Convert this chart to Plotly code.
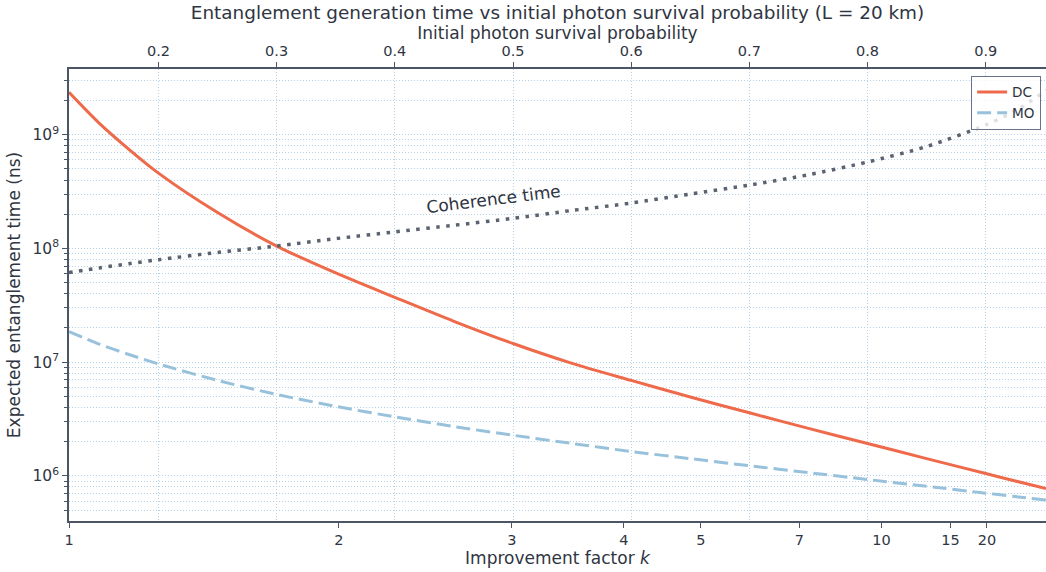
import plotly.graph_objects as go

# ---- data ----
# initial photon survival probability (top axis)
P = [0.1243, 0.15, 0.175, 0.2, 0.25, 0.3, 0.35, 0.4, 0.45, 0.5, 0.55, 0.6,
     0.65, 0.7, 0.75, 0.8, 0.85, 0.9, 0.925, 0.951]
# expected entanglement generation time (ns)
DC = [2.36e9, 1.26e9, 7.45e8, 4.60e8, 2.07e8, 1.05e8, 6.10e7, 3.72e7, 2.29e7, 1.46e7,
      9.77e6, 6.92e6, 4.95e6, 3.59e6, 2.62e6, 1.93e6, 1.42e6, 1.05e6, 9.04e5, 7.76e5]
MO = [1.86e7, 1.44e7, 1.17e7, 9.66e6, 6.92e6, 5.21e6, 4.09e6, 3.31e6, 2.72e6, 2.28e6,
      1.93e6, 1.64e6, 1.42e6, 1.23e6, 1.07e6, 9.31e5, 8.11e5, 7.06e5, 6.59e5, 6.14e5]
COHERENCE = [6.14e7, 6.75e7, 7.35e7, 7.96e7, 9.23e7, 1.05e8, 1.22e8, 1.40e8, 1.60e8, 1.84e8,
             2.16e8, 2.51e8, 3.01e8, 3.61e8, 4.45e8, 5.76e8, 7.88e8, 1.22e9, 1.62e9, 2.45e9]

K_TICKS = [1, 2, 3, 4, 5, 7, 10, 15, 20]          # improvement factor k (bottom axis)
P_TICKS = [0.2, 0.3, 0.4, 0.5, 0.6, 0.7, 0.8, 0.9]  # survival probability (top axis)
Y_TICKS = [1e6, 1e7, 1e8, 1e9]
Y_TICKTEXT = ["10<sup>6</sup>", "10<sup>7</sup>", "10<sup>8</sup>", "10<sup>9</sup>"]
P0 = 0.1243      # survival probability at k = 1 ; p(k) = P0 ** (1/k)
P_MAX = 0.951

TEXT = "#2f3542"
AXC = "#4c5566"
GRID = "#b4d3e8"
RED = "#ee6a4b"
BLUE = "#98c1dc"
DOT = "#5b6270"
FONT = "DejaVu Sans"
GRIDDASH = "1px,2px"

minor_vals = [m * 10 ** e for e in range(5, 10) for m in range(2, 10)]

fig = go.Figure()
fig.add_trace(go.Scatter(
    x=P, y=DC, name="DC", mode="lines",
    line=dict(color=RED, width=3, shape="spline", smoothing=0.8)))
fig.add_trace(go.Scatter(
    x=P, y=MO, name="MO", mode="lines",
    line=dict(color=BLUE, width=3, dash="14px,6px", shape="spline", smoothing=0.8)))
fig.add_trace(go.Scatter(
    x=P, y=COHERENCE, name="Coherence time", mode="lines", xaxis="x2",
    line=dict(color=DOT, width=3.5, dash="3.5px,6.5px", shape="spline", smoothing=0.8),
    showlegend=False))

fig.update_layout(
    width=1046, height=572,
    margin=dict(l=69, r=0, t=69, b=51),
    paper_bgcolor="white", plot_bgcolor="white",
    font=dict(family=FONT, color=TEXT, size=14.5),
    title=dict(text="Entanglement generation time vs initial photon survival probability (L = 20 km)",
               x=0.5, xref="paper", xanchor="center",
               y=1 - 13 / 572, yref="container", yanchor="middle",
               font=dict(size=18.4, color=TEXT)),
    xaxis=dict(
        range=[P0, P_MAX],
        tickmode="array",
        tickvals=[P0 ** (1.0 / k) for k in K_TICKS],
        ticktext=[str(k) for k in K_TICKS],
        ticks="outside", ticklen=5, tickwidth=1, tickcolor=AXC,
        showline=True, linecolor=AXC, linewidth=1.5,
        showgrid=False, zeroline=False,
        tickfont=dict(size=14.5),
        title=dict(text="Improvement factor <i>k</i>", font=dict(size=17), standoff=4),
    ),
    xaxis2=dict(
        overlaying="x", side="top", range=[P0, P_MAX],
        tickmode="array", tickvals=P_TICKS,
        ticktext=[f"{v:.1f}" for v in P_TICKS],
        ticks="outside", ticklen=5, tickwidth=1, tickcolor=AXC,
        showline=True, linecolor=AXC, linewidth=1.5,
        showgrid=True, gridcolor=GRID, griddash=GRIDDASH, gridwidth=1,
        zeroline=False,
        tickfont=dict(size=14.5),
        title=dict(text="Initial photon survival probability", font=dict(size=17), standoff=0),
    ),
    yaxis=dict(
        type="log", range=[5.604, 9.578],
        tickmode="array", tickvals=Y_TICKS, ticktext=Y_TICKTEXT,
        ticks="outside", ticklen=5, tickwidth=1, tickcolor=AXC,
        showline=True, linecolor=AXC, linewidth=1.5,
        showgrid=True, gridcolor=GRID, griddash=GRIDDASH, gridwidth=1,
        zeroline=False,
        tickfont=dict(size=15.5),
        minor=dict(tickmode="array", tickvals=minor_vals, ticks="outside", ticklen=3,
                   tickcolor=AXC, showgrid=True, gridcolor=GRID, griddash=GRIDDASH, gridwidth=1),
        title=dict(text="Expected entanglement time (ns)", font=dict(size=17), standoff=8),
    ),
    legend=dict(x=0.995, y=0.985, xanchor="right", yanchor="top",
                bgcolor="rgba(255,255,255,0.8)", bordercolor="#66738a", borderwidth=1,
                font=dict(size=13.6, color=TEXT), tracegroupgap=0),
    annotations=[dict(text="Coherence time", x=0.4838, y=8.437, xref="x", yref="y",
                      showarrow=False, textangle=-7, font=dict(size=17, color=TEXT))],
)

fig.write_html("out.html")
